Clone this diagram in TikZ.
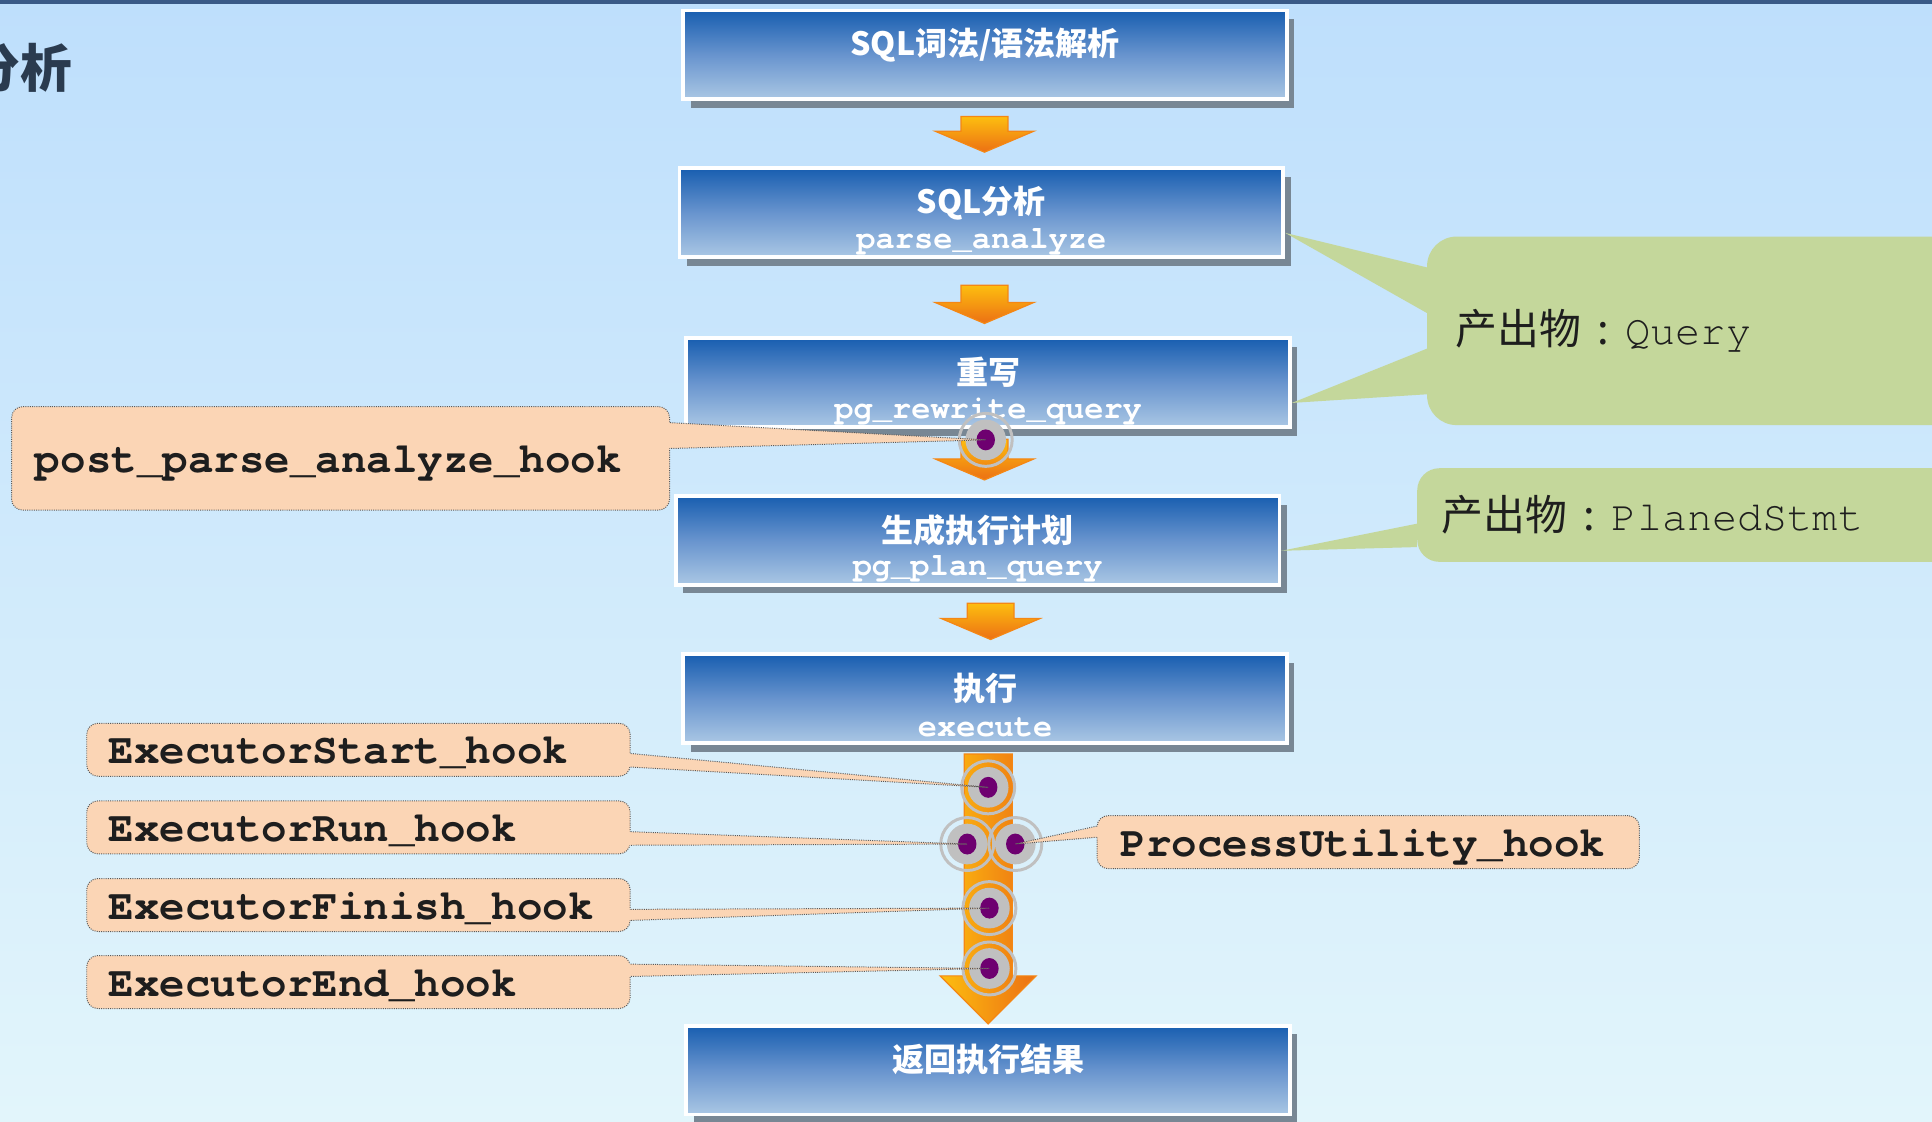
\documentclass[tikz,border=0pt]{standalone}
\usepackage{fontspec}
\newfontfamily\cjk{Noto Sans CJK SC}
\newfontfamily\cour{texgyrecursor}[Extension=.otf, UprightFont=*-regular, BoldFont=*-bold]
\usetikzlibrary{calc,shadows}

\definecolor{bgtop}{RGB}{190,223,252}
\definecolor{bgbot}{RGB}{226,245,251}
\definecolor{topbar}{RGB}{58,90,135}
\definecolor{titledark}{RGB}{42,59,79}
\definecolor{boxtop}{RGB}{24,94,176}
\definecolor{boxmid}{RGB}{104,148,206}
\definecolor{boxbot}{RGB}{170,199,228}
\definecolor{boxshadow}{RGB}{120,135,148}
\definecolor{arrowlight}{RGB}{253,190,15}
\definecolor{arrowdark}{RGB}{236,112,20}
\definecolor{arrowline}{RGB}{245,135,20}
\definecolor{dotgray}{RGB}{192,192,192}
\definecolor{hookpurple}{RGB}{110,0,112}
\definecolor{hookfill}{RGB}{251,213,181}
\definecolor{hookline}{RGB}{90,90,90}
\definecolor{outgreen}{RGB}{196,215,155}
\definecolor{textdark}{RGB}{30,30,30}

\begin{document}
\begin{tikzpicture}[x=1pt,y=-1pt]
    \tikzstyle{flowbox}=[rectangle, minimum width=490pt, minimum height=72pt, draw=white, line width=3pt, top color=boxtop, bottom color=boxbot, middle color=boxmid, drop shadow={fill=boxshadow, opacity=1, shadow xshift=6pt, shadow yshift=-7pt}]
    \tikzstyle{boxtitle}=[text=white, inner sep=0pt, font=\cjk\bfseries\fontsize{26}{30}\selectfont]
    \tikzstyle{boxsub}=[text=white, inner sep=0pt, font=\cour\bfseries\fontsize{26}{30}\selectfont]
    \tikzstyle{flowarrow}=[draw=arrowline, line width=1pt, top color=arrowlight, bottom color=arrowdark]
    \tikzstyle{hookdot}=[circle, draw=dotgray, line width=2.4pt, minimum size=43pt, inner sep=0pt,
        path picture={\fill[dotgray] (path picture bounding box.center) circle (16.5pt);
                      \fill[hookpurple] (path picture bounding box.center) ellipse (7.5pt and 8.5pt);}]
    \tikzstyle{hooklabel}=[rectangle, rounded corners=9pt, fill=hookfill, draw=hookline, densely dotted, line width=0.8pt, anchor=west, align=left, inner xsep=18pt, inner ysep=0pt, minimum height=43pt, text width=405pt, text height=23pt, text depth=0pt, text=textdark, font=\cour\bfseries\fontsize{34.5}{40}\selectfont]
    \tikzstyle{outbox}=[rectangle, rounded corners=24pt, fill=outgreen, anchor=west, align=left, inner xsep=23pt, text width=420pt, text=textdark, font=\fontsize{34}{40}\selectfont]

    \useasboundingbox (0,0) rectangle (1568,910);
    \shade[top color=bgtop, bottom color=bgbot] (0,0) rectangle (1568,910);
    \fill[topbar] (0,0) rectangle (1568,3);
    \node[anchor=east, text=titledark, font=\cjk\bfseries\fontsize{42}{46}\selectfont] (pagetitle) at (62,55) {分析};

    % the steps
    \node[flowbox] (b1) at (799.5,44.5) {};
    \node[boxtitle] (b1t) at ([yshift=-30pt]b1.north) {SQL词法/语法解析};
    \node[flowbox] (b2) at (796.5,172.5) {};
    \node[boxtitle] (b2t) at ([yshift=-29.5pt]b2.north) {SQL分析};
    \node[boxsub] (b2s) at ([yshift=-61pt]b2.north) {parse\_analyze};
    \node[flowbox] (b3) at (802,310.5) {};
    \node[boxtitle] (b3t) at ([yshift=-29.5pt]b3.north) {重写};
    \node[boxsub] (b3s) at ([yshift=-61pt]b3.north) {pg\_rewrite\_query};
    \node[flowbox] (b4) at (793.5,438.5) {};
    \node[boxtitle] (b4t) at ([yshift=-29.5pt]b4.north) {生成执行计划};
    \node[boxsub] (b4s) at ([yshift=-61pt]b4.north) {pg\_plan\_query};
    \node[flowbox] (b5) at (799.5,567) {};
    \node[boxtitle] (b5t) at ([yshift=-29.5pt]b5.north) {执行};
    \node[boxsub] (b5s) at ([yshift=-61pt]b5.north) {execute};
    \node[flowbox] (b6) at (802,868.5) {};
    \node[boxtitle] (b6t) at ([yshift=-28.5pt]b6.north) {返回执行结果};

    % arrows between the steps
    \foreach \a/\b/\dx/\st/\tp in {b1/b2/-0.5/12.5/-11.5, b2/b3/2.5/21.5/-10.5, b3/b4/-3/8.5/-11.5, b4/b5/10.5/13.5/-10.5}
        \draw[flowarrow] let \p1=($(\a.south)+(\dx,\st)$), \p2=($(\a.south |- \b.north)+(\dx,\tp)$) in
            (\x1-19pt,\y1) -- (\x1+19pt,\y1) -- (\x1+19pt,\y2+17pt) -- (\x1+40pt,\y2+17pt) -- (\x2,\y2)
            -- (\x1-40pt,\y2+17pt) -- (\x1-19pt,\y2+17pt) -- cycle;
    \draw[flowarrow, left color=arrowlight, right color=arrowdark] let \p1=($(b5.south)+(2.5,7.5)$), \p2=(b6.north) in
        (\x1-19.5pt,\y1) -- (\x1+19.5pt,\y1) -- (\x1+19.5pt,\y2+39pt) -- (\x1+39pt,\y2+39pt) -- (\x1,\y2)
        -- (\x1-39pt,\y2+39pt) -- (\x1-19.5pt,\y2+39pt) -- cycle;

    % hook points
    \foreach \name/\px/\py in {d1/800/357, d2/802/639, d3/785/685, d4/824/685, d5/803/737, d6/803/786}
        \node[hookdot] (\name) at (\px,\py) {};

    % results
    \node[outbox, minimum height=153pt] (q1) at (1158,268.5) {{\cjk 产出物}\makebox[36pt]{\cjk :}{\cour Query}};
    \node[outbox, minimum height=76pt, rounded corners=18pt, inner xsep=20pt] (q2) at (1150,418) {{\cjk 产出物}\makebox[36pt]{\cjk :}{\cour PlanedStmt}};
    \fill[outgreen] ($(b2.east)+(0,16.5)$) -- ($(q1.west)+(0,-51.5)$) -- ($(q1.west)+(0,-14.5)$) -- cycle;
    \fill[outgreen] ($(b3.east)+(0,16.5)$) -- ($(q1.west)+(0,14.5)$) -- ($(q1.west)+(0,51.5)$) -- cycle;
    \fill[outgreen] ($(b4.east)+(0,8.5)$) -- ($(q2.west)+(0,7)$) -- ($(q2.west)+(0,26)$) -- cycle;

    % hooks
    \node[hooklabel, minimum height=84pt, text width=496pt, inner xsep=19pt] (hp) at (9,372) {post\_parse\_analyze\_hook};
    \node[hooklabel] (hs) at (70,608.5) {ExecutorStart\_hook};
    \node[hooklabel] (hr) at (70,671.5) {ExecutorRun\_hook};
    \node[hooklabel] (hf) at (70,734.5) {ExecutorFinish\_hook};
    \node[hooklabel] (he) at (70,797) {ExecutorEnd\_hook};
    \node[hooklabel, text width=402pt, inner xsep=19pt] (hu) at (890,683.5) {ProcessUtility\_hook};
    \foreach \lab/\side/\dot/\ya/\yb in {hp/east/d1/-29/-8, hs/east/d2/3/14, hr/east/d3/3.5/14.5, hf/east/d5/3.5/12.5, he/east/d6/-14.5/-4.5, hu/west/d4/-13/-4} {
        \fill[hookfill] ($(\lab.\side)!1.5pt!(\lab.center)+(0,\ya)$) -- (\dot.center) -- ($(\lab.\side)!1.5pt!(\lab.center)+(0,\yb)$) -- cycle;
        \draw[hookline, densely dotted, line width=0.8pt] ($(\lab.\side)+(0,\ya)$) -- (\dot.center) -- ($(\lab.\side)+(0,\yb)$);
    }
\end{tikzpicture}
\end{document}
